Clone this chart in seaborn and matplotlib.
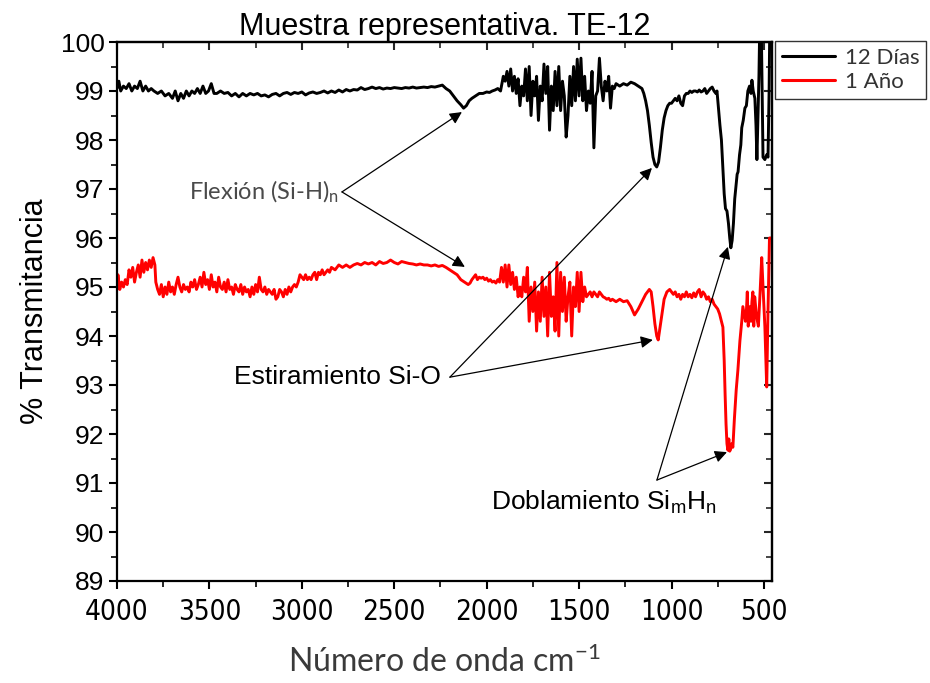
import numpy as np
import pandas as pd
import seaborn as sns
import matplotlib
matplotlib.use("Agg")
import matplotlib.pyplot as plt
from matplotlib import font_manager as fm
from matplotlib.ticker import MultipleLocator

# ---------------- data ----------------
wn_12dias = [4000, 3990, 3980, 3965, 3950, 3935, 3920, 3905, 3890, 3875, 3860, 3845, 3830, 3815, 3800,
             3780, 3760, 3740, 3720, 3700, 3685, 3670, 3655, 3640, 3625, 3610, 3595, 3580, 3565, 3550,
             3535, 3520, 3505, 3490, 3475, 3460, 3440, 3420, 3400, 3380, 3360, 3340, 3320, 3300, 3280,
             3260, 3240, 3220, 3200, 3180, 3160, 3140, 3120, 3100, 3080, 3060, 3040, 3020, 3000, 2980,
             2960, 2940, 2920, 2900, 2880, 2860, 2840, 2820, 2800, 2780, 2760, 2740, 2720, 2700, 2680,
             2660, 2640, 2620, 2600, 2580, 2560, 2540, 2520, 2500, 2480, 2460, 2440, 2420, 2400, 2380,
             2360, 2340, 2320, 2300, 2280, 2260, 2240, 2220, 2200, 2180, 2160, 2140, 2125, 2110, 2095,
             2080, 2060, 2040, 2020, 2000, 1985, 1970, 1955, 1940, 1925, 1910, 1900, 1890, 1880, 1870,
             1860, 1850, 1840, 1830, 1820, 1810, 1800, 1790, 1780, 1770, 1760, 1750, 1740, 1730, 1720,
             1710, 1700, 1690, 1680, 1670, 1660, 1650, 1640, 1630, 1620, 1610, 1600, 1590, 1580, 1570,
             1560, 1550, 1540, 1530, 1520, 1510, 1500, 1490, 1480, 1470, 1460, 1450, 1440, 1430, 1420,
             1410, 1400, 1390, 1380, 1370, 1360, 1350, 1340, 1330, 1320, 1310, 1300, 1280, 1260, 1240,
             1220, 1200, 1180, 1160, 1150, 1140, 1130, 1120, 1110, 1100, 1090, 1080, 1070, 1060, 1050,
             1040, 1030, 1020, 1010, 1000, 990, 980, 970, 960, 950, 940, 930, 920, 910, 900,
             890, 880, 870, 860, 850, 840, 830, 820, 810, 800, 790, 780, 770, 760, 754,
             745, 738, 730, 722, 715, 708, 700, 692, 685, 679, 672, 665, 658, 650, 645,
             640, 632, 625, 620, 612, 603, 595, 587, 578, 570, 565, 558, 549, 543, 538,
             533, 527, 522, 515, 510, 505, 495, 485, 478, 472, 468, 462]
t_12dias = [99.05, 99.2, 99.0, 99.1, 99.05, 99.15, 99.0, 99.1, 99.05, 99.2, 99.0, 99.1, 99.0, 99.05, 99.0,
            98.95, 99.0, 98.9, 98.95, 98.85, 99.0, 98.8, 98.95, 98.85, 99.0, 98.9, 99.0, 98.95, 99.05, 98.95,
            99.1, 98.95, 99.0, 99.15, 98.95, 98.95, 99.0, 98.95, 98.97, 98.9, 98.95, 98.88, 98.95, 98.9, 98.95,
            98.92, 98.95, 98.9, 98.92, 98.88, 98.93, 98.95, 98.9, 98.95, 98.97, 98.93, 98.97, 98.95, 98.98, 98.92,
            98.96, 98.98, 98.95, 98.97, 99.0, 98.96, 99.0, 98.97, 99.02, 98.98, 99.03, 99.0, 99.03, 99.02, 99.07,
            99.03, 99.05, 99.08, 99.05, 99.07, 99.04, 99.06, 99.05, 99.07, 99.06, 99.05, 99.07, 99.06, 99.08, 99.06,
            99.07, 99.08, 99.07, 99.09, 99.08, 99.1, 99.12, 99.05, 99.0, 98.9, 98.8, 98.72, 98.65, 98.7, 98.8,
            98.85, 98.9, 98.95, 98.95, 98.98, 98.97, 99.0, 99.02, 99.05, 99.0, 99.3, 99.2, 99.4, 99.1, 99.45,
            99.0, 99.3, 98.95, 99.25, 98.7, 99.1, 98.9, 99.45, 98.8, 99.5, 98.5, 99.2, 98.9, 99.3, 98.4,
            99.1, 98.8, 99.55, 98.95, 99.5, 98.2, 99.1, 98.6, 99.4, 98.7, 99.5, 98.6, 99.2, 98.9, 98.06,
            98.5, 99.3, 98.7, 99.5, 98.8, 99.65, 98.9, 99.67, 98.8, 99.3, 98.6, 99.0, 98.75, 99.4, 97.84,
            98.9, 99.0, 99.67, 99.1, 98.8, 99.2, 99.0, 99.3, 98.65, 99.1, 99.05, 99.15, 99.1, 99.15, 99.12,
            99.18, 99.15, 99.1, 99.05, 98.95, 98.8, 98.6, 98.3, 97.95, 97.65, 97.5, 97.45, 97.55, 97.85, 98.2,
            98.45, 98.6, 98.7, 98.75, 98.75, 98.8, 98.85, 98.8, 98.9, 98.75, 98.7, 98.9, 98.95, 98.95, 99.0,
            98.97, 99.0, 99.0, 98.98, 99.02, 98.98, 99.0, 99.05, 98.95, 99.0, 99.05, 99.08, 99.0, 98.95, 99.0,
            98.6, 98.3, 98.0, 97.4, 96.9, 96.6, 96.55, 96.3, 96.0, 95.8, 95.95, 96.3, 96.8, 97.1, 97.3,
            97.35, 97.7, 97.9, 98.25, 98.4, 98.65, 98.7, 99.0, 99.1, 98.95, 99.22, 99.0, 98.85, 98.3, 97.6,
            98.4, 99.3, 100.5, 100.5, 99.0, 97.65, 97.6, 97.7, 97.65, 99.0, 100.5, 100.5]

wn_1ano = [4000, 3995, 3985, 3975, 3965, 3955, 3945, 3935, 3925, 3915, 3905, 3895, 3885, 3875, 3865,
           3855, 3845, 3835, 3825, 3815, 3805, 3795, 3790, 3780, 3770, 3760, 3750, 3740, 3730, 3720,
           3710, 3700, 3690, 3680, 3670, 3660, 3650, 3640, 3630, 3620, 3610, 3600, 3590, 3580, 3570,
           3560, 3550, 3540, 3530, 3520, 3510, 3500, 3490, 3480, 3470, 3460, 3450, 3440, 3430, 3420,
           3410, 3400, 3390, 3380, 3370, 3360, 3350, 3340, 3330, 3320, 3310, 3300, 3290, 3280, 3270,
           3260, 3250, 3240, 3230, 3220, 3210, 3200, 3190, 3180, 3170, 3160, 3150, 3140, 3130, 3120,
           3110, 3100, 3090, 3080, 3070, 3060, 3050, 3040, 3030, 3020, 3010, 3000, 2990, 2980, 2970,
           2960, 2950, 2940, 2930, 2920, 2910, 2900, 2890, 2880, 2870, 2860, 2850, 2840, 2820, 2800,
           2780, 2760, 2740, 2720, 2700, 2680, 2660, 2640, 2620, 2600, 2580, 2560, 2540, 2520, 2500,
           2480, 2460, 2440, 2420, 2400, 2380, 2360, 2340, 2320, 2300, 2280, 2260, 2240, 2220, 2200,
           2180, 2160, 2140, 2120, 2100, 2090, 2080, 2070, 2060, 2050, 2040, 2030, 2020, 2010, 2000,
           1990, 1980, 1970, 1960, 1950, 1940, 1930, 1920, 1910, 1900, 1890, 1880, 1870, 1860, 1850,
           1840, 1830, 1820, 1810, 1800, 1790, 1780, 1770, 1760, 1750, 1740, 1730, 1720, 1710, 1700,
           1690, 1680, 1670, 1660, 1650, 1640, 1630, 1620, 1610, 1600, 1590, 1580, 1570, 1560, 1550,
           1540, 1530, 1520, 1510, 1500, 1490, 1480, 1470, 1460, 1450, 1440, 1430, 1420, 1410, 1400,
           1390, 1380, 1370, 1360, 1350, 1340, 1330, 1320, 1300, 1280, 1260, 1240, 1220, 1200, 1180,
           1160, 1140, 1120, 1110, 1100, 1090, 1080, 1072, 1065, 1050, 1040, 1025, 1010, 1000, 990,
           980, 970, 960, 950, 940, 930, 920, 910, 900, 890, 880, 870, 860, 850, 840,
           830, 820, 810, 800, 790, 780, 770, 760, 750, 740, 730, 722, 715, 710, 705,
           700, 695, 690, 685, 680, 675, 668, 660, 650, 641, 630, 620, 614, 605, 600,
           595, 590, 585, 580, 575, 570, 565, 560, 555, 550, 540, 530, 522, 512, 505,
           495, 485, 478, 470, 462]
t_1ano = [94.95, 95.25, 94.95, 95.1, 95.0, 95.15, 95.05, 95.35, 95.2, 95.4, 95.1, 95.3, 95.45, 95.2, 95.55,
          95.3, 95.5, 95.35, 95.55, 95.4, 95.6, 95.45, 95.1, 94.95, 94.85, 95.05, 94.8, 95.0, 94.85, 95.1,
          94.9, 95.0, 94.85, 95.05, 95.2, 95.0, 94.9, 95.05, 94.95, 95.0, 94.9, 95.1, 95.0, 95.15, 94.95,
          95.05, 95.2, 95.0, 95.3, 95.05, 95.15, 94.95, 95.25, 95.0, 95.1, 94.9, 95.2, 95.0, 94.95, 95.1,
          94.9, 95.15, 94.95, 95.0, 94.85, 95.05, 94.95, 94.9, 95.05, 94.85, 95.0, 94.9, 94.95, 94.8, 95.0,
          94.85, 95.05, 94.9, 95.2, 94.95, 94.9, 95.0, 94.85, 94.95, 94.9, 94.85, 94.95, 94.75, 94.8, 94.95,
          94.9, 94.8, 94.95, 94.85, 95.0, 94.9, 95.0, 95.05, 95.0, 95.1, 95.25, 95.2, 95.15, 95.25, 95.15,
          95.2, 95.15, 95.25, 95.3, 95.15, 95.3, 95.25, 95.35, 95.25, 95.3, 95.35, 95.3, 95.4, 95.35, 95.45,
          95.4, 95.45, 95.4, 95.45, 95.48, 95.45, 95.5, 95.47, 95.5, 95.45, 95.52, 95.48, 95.5, 95.55, 95.5,
          95.47, 95.52, 95.5, 95.48, 95.47, 95.45, 95.47, 95.45, 95.45, 95.43, 95.45, 95.42, 95.44, 95.4, 95.35,
          95.3, 95.25, 95.15, 95.1, 95.05, 95.08, 95.15, 95.2, 95.25, 95.15, 95.2, 95.18, 95.2, 95.15, 95.18,
          95.12, 95.15, 95.1, 95.12, 95.08, 95.15, 95.1, 95.4, 95.1, 95.45, 95.0, 95.45, 95.05, 95.3, 94.95,
          95.2, 94.8, 95.0, 94.8, 95.2, 94.9, 95.4, 94.3, 95.0, 94.5, 95.1, 94.1, 94.9, 94.3, 95.2,
          94.4, 95.0, 94.0, 95.3, 94.4, 94.8, 94.1, 95.5, 94.0, 95.3, 94.5, 95.2, 94.3, 94.8, 95.1,
          94.0, 95.0, 94.6, 95.3, 94.5, 95.3, 94.7, 95.0, 94.8, 94.85, 94.9, 94.8, 94.9, 94.85, 94.8,
          94.9, 94.85, 94.8, 94.78, 94.75, 94.77, 94.72, 94.75, 94.7, 94.75, 94.7, 94.72, 94.6, 94.43, 94.55,
          94.7, 94.85, 94.95, 94.9, 94.6, 94.25, 94.0, 93.92, 94.1, 94.5, 94.75, 94.9, 94.95, 94.9, 94.85,
          94.9, 94.8, 94.85, 94.75, 94.85, 94.8, 94.9, 94.8, 94.85, 94.78, 94.88, 94.8, 94.9, 94.95, 94.8,
          94.9, 94.85, 94.75, 94.8, 94.7, 94.75, 94.65, 94.6, 94.55, 94.45, 94.3, 94.18, 93.5, 92.8, 92.2,
          91.8, 91.67, 91.9, 91.65, 91.7, 91.8, 91.73, 92.3, 92.9, 93.3, 93.9, 94.3, 94.6, 94.4, 94.3,
          94.5, 94.9, 94.2, 94.5, 94.6, 94.3, 94.7, 94.9, 94.2, 94.8, 94.4, 94.2, 94.8, 95.6, 95.0,
          94.2, 92.96, 94.5, 96.0, 96.0]

series_labels = ["12 Días", "1 Año"]
series_colors = ["#000000", "#FF0000"]
x_ticks = [4000, 3500, 3000, 2500, 2000, 1500, 1000, 500]
y_ticks = list(range(89, 101))

df = pd.concat([
    pd.DataFrame({"wn": wn_12dias, "T": t_12dias, "serie": series_labels[0]}),
    pd.DataFrame({"wn": wn_1ano, "T": t_1ano, "serie": series_labels[1]}),
], ignore_index=True)

# ---------------- fonts ----------------
names = {f.name for f in fm.fontManager.ttflist}
arial = "Liberation Sans" if "Liberation Sans" in names else "DejaVu Sans"
thin = "Lato" if "Lato" in names else "DejaVu Sans"

# look for a condensed / narrow face for the x tick labels
narrow_file = None
for f in fm.fontManager.ttflist:
    fn = f.fname.lower()
    if ("narrow" in fn or "condensed" in fn) and "bold" not in fn and "oblique" not in fn \
            and "italic" not in fn and ("liberation" in fn or "dejavusans" in fn):
        narrow_file = f.fname
        if "liberation" in fn:
            break
narrow_prop = fm.FontProperties(fname=narrow_file, size=20) if narrow_file else \
    fm.FontProperties(family=arial, size=18)

sns.set_style("ticks")
plt.rcParams["font.family"] = [arial, "DejaVu Sans"]
plt.rcParams["mathtext.default"] = "regular"

fig = plt.figure(figsize=(9.30, 6.83), dpi=100)
ax = fig.add_axes([117 / 930, 1 - 581 / 683, (771.7 - 117) / 930, (581 - 42) / 683])

sns.lineplot(data=df, x="wn", y="T", hue="serie", palette=series_colors,
             estimator=None, sort=False, lw=2.1, ax=ax, legend=True)

ax.set_xlim(4000, 458)
ax.set_ylim(89, 100)
ax.set_xticks(x_ticks)
ax.set_yticks(y_ticks)
ax.xaxis.set_minor_locator(MultipleLocator(250))
ax.yaxis.set_minor_locator(MultipleLocator(0.5))

for s in ax.spines.values():
    s.set_visible(True)
    s.set_linewidth(1.6)
    s.set_color("black")

ax.tick_params(axis="both", which="major", direction="out", length=6, width=1.5,
               color="black", labelcolor="black")
ax.tick_params(axis="both", which="minor", direction="out", length=4, width=1.2, color="black")
ax.tick_params(axis="y", labelsize=19, pad=3)
ax.tick_params(axis="x", pad=6)
for lab in ax.get_xticklabels():
    lab.set_fontproperties(narrow_prop)

# mirrored inward ticks on top and right
secx = ax.secondary_xaxis("top")
secx.set_xticks(x_ticks)
secx.xaxis.set_minor_locator(MultipleLocator(250))
secx.tick_params(which="major", direction="in", length=6, width=1.5, labeltop=False)
secx.tick_params(which="minor", direction="in", length=4, width=1.2)
secy = ax.secondary_yaxis("right")
secy.set_yticks(y_ticks)
secy.yaxis.set_minor_locator(MultipleLocator(0.5))
secy.tick_params(which="major", direction="in", length=6, width=1.5, labelright=False)
secy.tick_params(which="minor", direction="in", length=4, width=1.2)
for sp in list(secx.spines.values()) + list(secy.spines.values()):
    sp.set_linewidth(1.6)

ax.set_title("Muestra representativa. TE-12", fontsize=22, pad=3, color="black")
ax.set_ylabel("% Transmitancia", fontsize=22, labelpad=8, color="black")
ax.set_xlabel("Número de onda cm$^{\\mathregular{-1}}$", fontsize=23, family=thin,
              color="#3a3a3a", labelpad=14)

# legend outside
handles, labels = ax.get_legend_handles_labels()
ax.get_legend().remove()
leg = fig.legend(handles, labels, loc="upper left", bbox_to_anchor=(775 / 930, 1 - 41 / 683),
                 frameon=True, fancybox=False, edgecolor="black", handlelength=2.4,
                 borderpad=0.3, labelspacing=0.2, handletextpad=0.45, borderaxespad=0,
                 prop={"family": thin, "size": 16})
leg.get_frame().set_linewidth(1.0)
for h in leg.get_lines():
    h.set_linewidth(2.2)
for t in leg.get_texts():
    t.set_color("#333333")

arrow = dict(arrowstyle="-|>", color="black", lw=0.9, mutation_scale=18,
             shrinkA=0, shrinkB=0)

# Flexión (Si-H)n
fx, fy = 2783, 96.94
ax.annotate("", xy=(2134, 98.57), xytext=(fx, fy), arrowprops=arrow)
ax.annotate("", xy=(2118, 95.41), xytext=(fx, fy), arrowprops=arrow)
ax.text(fx + 20, fy, "Flexión (Si-H)$_\\mathregular{n}$", ha="right", va="center",
        fontsize=17, family=thin, color="#4a4a4a")

# Estiramiento Si-O
ex, ey = 2199, 93.16
ax.annotate("", xy=(1106, 97.43), xytext=(ex, ey), arrowprops=arrow)
ax.annotate("", xy=(1101, 93.92), xytext=(ex, ey), arrowprops=arrow)
ax.text(ex + 50, ey, "Estiramiento Si-O", ha="right", va="center", fontsize=19, color="black")

# Doblamiento SimHn
dx, dy = 1079, 91.06
ax.annotate("", xy=(695, 95.82), xytext=(dx, dy), arrowprops=arrow)
ax.annotate("", xy=(700, 91.63), xytext=(dx, dy), arrowprops=arrow)
ax.text(1975, 90.6, "Doblamiento Si$_\\mathregular{m}$H$_\\mathregular{n}$", ha="left", va="center",
        fontsize=19, color="black")

fig.savefig("out.png", dpi=100, facecolor="white")
